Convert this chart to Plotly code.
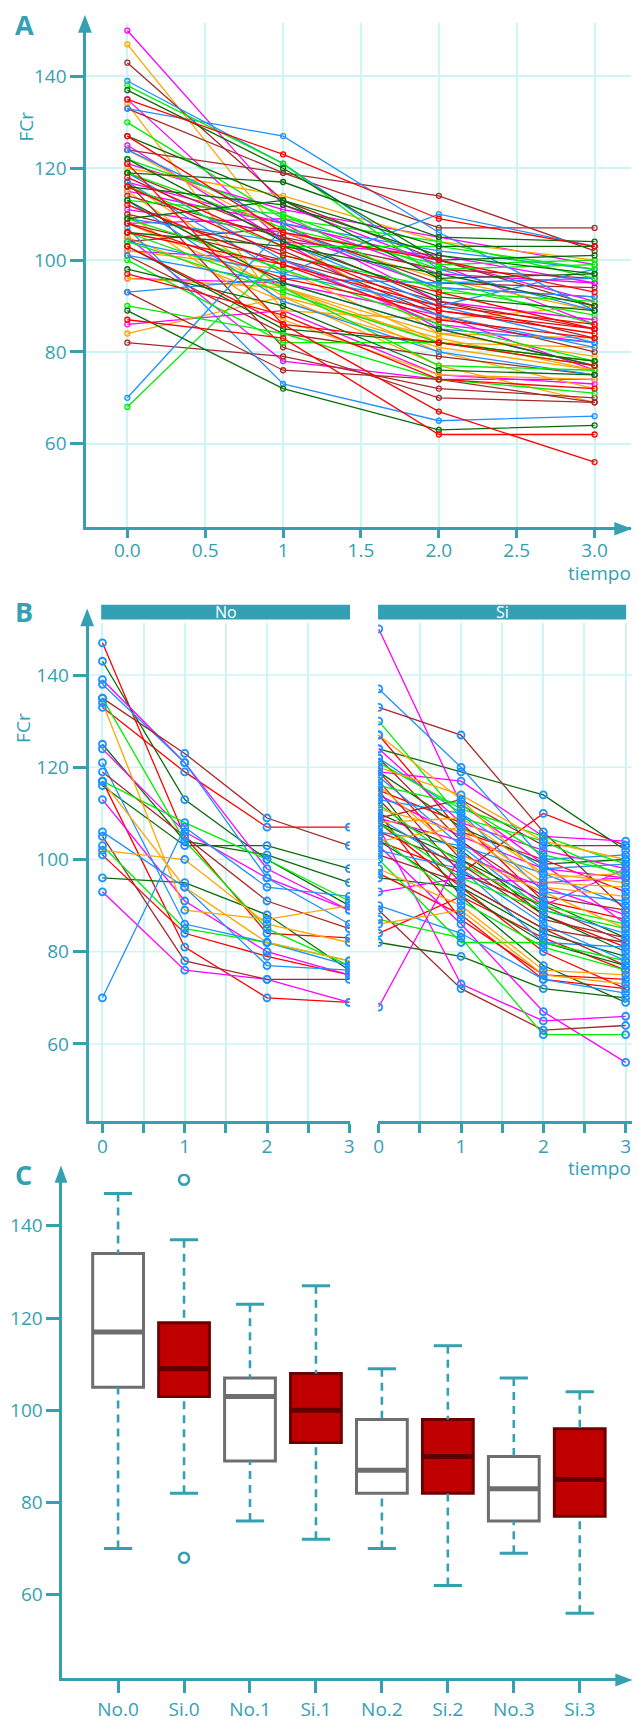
import numpy as np
import plotly.graph_objects as go

# ---------------- data ----------------
tiempo = [0, 1, 2, 3]
tick_vals_a = [0, 0.5, 1, 1.5, 2, 2.5, 3]
tick_text_a = ["0.0", "0.5", "1", "1.5", "2.0", "2.5", "3.0"]
tick_vals_b = [0, 0.5, 1, 1.5, 2, 2.5, 3]
tick_text_b = ["0", "", "1", "", "2", "", "3"]
y_ticks = [60, 80, 100, 120, 140]
groups = ["No", "Si"]

# grupo "No" (one value per subject)
no_t0 = [147, 143, 139, 138, 135, 135, 134, 133, 125, 124, 121, 119, 117, 117, 117, 116, 113, 106, 105, 103, 102, 101, 96, 93, 70]
no_t1 = [105, 113, 121, 121, 123, 104, 89, 119, 104, 106, 86, 105, 108, 94, 81, 103, 91, 94, 78, 85, 100, 84, 95, 76, 107]
no_t2 = [84, 100, 98, 96, 109, 85, 87, 107, 101, 96, 82, 91, 100, 82, 70, 103, 80, 77, 74, 82, 86, 79, 88, 74, 94]
no_t3 = [83, 90, 89, 86, 103, 77, 90, 107, 95, 89, 77, 85, 91, 78, 69, 98, 75, 76, 74, 78, 82, 75, 76, 69, 92]

# grupo "Si"
si_t0 = [150, 137, 133, 130, 127, 127, 124, 124, 122, 122, 121, 120, 119, 119, 119, 118, 117, 116, 116, 115,
         115, 114, 113, 113, 112, 111, 110, 110, 109, 109, 109, 108, 108, 108, 108, 107, 106, 106, 105, 104,
         104, 104, 103, 102, 101, 100, 98, 97, 96, 93, 90, 89, 87, 86, 84, 82, 68]
si_t1 = [112, 120, 127, 109, 113, 106, 119, 108, 110, 104, 111, 114, 100, 107, 117, 103, 97, 112, 101, 108,
         92, 105, 110, 95, 99, 106, 87, 102, 104, 98, 113, 96, 109, 94, 100, 73, 103, 99, 91, 107,
         97, 93, 86, 98, 95, 82, 90, 88, 94, 96, 84, 72, 83, 89, 92, 79, 101]
si_t2 = [99, 100, 106, 104, 96, 100, 114, 102, 98, 92, 105, 104, 88, 99, 105, 89, 90, 101, 93, 91,
         77, 98, 93, 85, 90, 94, 75, 88, 90, 86, 103, 89, 97, 80, 91, 65, 97, 87, 81, 95,
         110, 82, 67, 82, 85, 82, 76, 74, 84, 95, 74, 63, 62, 75, 83, 72, 94]
si_t3 = [86, 101, 89, 96, 97, 93, 102, 98, 99, 89, 99, 100, 81, 100, 104, 84, 82, 97, 85, 87,
         69, 96, 91, 77, 86, 92, 74, 80, 98, 78, 103, 85, 95, 72, 83, 66, 90, 83, 76, 94,
         103, 77, 56, 81, 82, 78, 75, 72, 79, 96, 71, 64, 62, 73, 76, 70, 88]

# ---------------- style ----------------
W, H = 638, 1722
def px(x): return x / W
def py(y): return 1 - y / H

TEAL = "#36a0b3"
GRID = "#cdf5f5"
FONT = "Open Sans"
BLUE, MAG, ORA, LIME, DKG, RED, BRN = "#1E90FF", "#FF00FF", "#FFA500", "#00EE00", "#0B6B0B", "#FF0000", "#A52A2A"
palA = [MAG, ORA, BRN, BLUE, LIME, DKG, RED]
palB = [RED, DKG, MAG, BLUE, BRN, LIME, ORA]

fig = go.Figure()

no_subj = list(zip(no_t0, no_t1, no_t2, no_t3))
si_subj = list(zip(si_t0, si_t1, si_t2, si_t3))

# ---------------- panel A ----------------
allsub = no_subj + si_subj
order = sorted(range(len(allsub)), key=lambda k: -allsub[k][0])
for c in range(7):
    xs, ys = [], []
    for j, k in enumerate(order):
        if j % 7 == c:
            xs += tiempo + [None]
            ys += list(allsub[k]) + [None]
    fig.add_trace(go.Scatter(x=xs, y=ys, mode="lines+markers", xaxis="x", yaxis="y",
                             line=dict(color=palA[c], width=1.3),
                             marker=dict(symbol="circle-open", size=5, color=palA[c], line=dict(width=1.3)),
                             showlegend=False, hoverinfo="skip"))

# ---------------- panel B ----------------
for subj, xa, off in [(no_subj, "x2", 0), (si_subj, "x3", 2)]:
    for c in range(7):
        xs, ys = [], []
        for j, s in enumerate(subj):
            if (j + off) % 7 == c:
                xs += tiempo + [None]
                ys += list(s) + [None]
        fig.add_trace(go.Scatter(x=xs, y=ys, mode="lines", xaxis=xa, yaxis="y2",
                                 line=dict(color=palB[c], width=1.3), showlegend=False, hoverinfo="skip"))
    mx = [t for s in subj for t in tiempo]
    my = [v for s in subj for v in s]
    fig.add_trace(go.Scatter(x=mx, y=my, mode="markers", xaxis=xa, yaxis="y2",
                             marker=dict(symbol="circle-open", size=7, color=BLUE, line=dict(width=1.8)),
                             showlegend=False, hoverinfo="skip"))

# ---------------- panel C ----------------
def fivenum(v):
    x = np.sort(np.asarray(v, dtype=float))
    n = len(x)
    n4 = np.floor((n + 3) / 2) / 2
    d = np.array([1, n4, (n + 1) / 2, n + 1 - n4, n]) - 1
    return 0.5 * (x[np.floor(d).astype(int)] + x[np.ceil(d).astype(int)])

series = {"No": [no_t0, no_t1, no_t2, no_t3], "Si": [si_t0, si_t1, si_t2, si_t3]}
cats, stats = [], []
for t in range(4):
    for g in groups:
        v = np.asarray(series[g][t], dtype=float)
        mn, q1, med, q3, mx_ = fivenum(v)
        iqr = q3 - q1
        inside = v[(v >= q1 - 1.5 * iqr) & (v <= q3 + 1.5 * iqr)]
        outl = v[(v < q1 - 1.5 * iqr) | (v > q3 + 1.5 * iqr)]
        cats.append(f"{g}.{t}")
        stats.append((g, q1, med, q3, inside.min(), inside.max(), outl))

BW = 0.77
CAP = 0.214
for i, (g, q1, med, q3, lo, hi, outl) in enumerate(stats):
    fig.add_trace(go.Scatter(x=[i, i, None, i, i], y=[hi, q3, None, lo, q1], mode="lines",
                             xaxis="x4", yaxis="y4", line=dict(color=TEAL, width=2.6, dash="8px,6px"),
                             showlegend=False, hoverinfo="skip"))
    fig.add_trace(go.Scatter(x=[i - CAP, i + CAP, None, i - CAP, i + CAP], y=[hi, hi, None, lo, lo],
                             mode="lines", xaxis="x4", yaxis="y4", line=dict(color=TEAL, width=3),
                             showlegend=False, hoverinfo="skip"))
    if g == "No":
        fill, edge, medc = "#ffffff", "#6e6e6e", "#6e6e6e"
    else:
        fill, edge, medc = "#c00000", "#6a0000", "#5e0000"
    fig.add_trace(go.Box(x=[i], q1=[q1], median=[med], q3=[q3], lowerfence=[q1], upperfence=[q3],
                         orientation="v", width=BW, whiskerwidth=0, fillcolor=fill,
                         line=dict(color=edge, width=3), boxpoints=False,
                         xaxis="x4", yaxis="y4", showlegend=False, hoverinfo="skip"))
    fig.add_trace(go.Scatter(x=[i - BW / 2, i + BW / 2], y=[med, med], mode="lines",
                             xaxis="x4", yaxis="y4", line=dict(color=medc, width=5),
                             showlegend=False, hoverinfo="skip"))
    if len(outl):
        fig.add_trace(go.Scatter(x=[i] * len(outl), y=list(outl), mode="markers", xaxis="x4", yaxis="y4",
                                 marker=dict(symbol="circle-open", size=10, color=TEAL, line=dict(width=2.6)),
                                 showlegend=False, hoverinfo="skip"))

# ---------------- layout ----------------
tf = dict(family=FONT, size=19, color=TEAL)
base = dict(showline=True, linecolor=TEAL, linewidth=3, ticks="outside", tickcolor=TEAL, tickwidth=3,
            zeroline=False, tickfont=tf)

fig.update_layout(
    width=W, height=H, margin=dict(l=0, r=0, t=0, b=0),
    paper_bgcolor="white", plot_bgcolor="rgba(0,0,0,0)", showlegend=False,
    font=dict(family=FONT, color=TEAL),
    xaxis=dict(base, domain=[px(82.7), px(636)], range=[-0.263, 3.234], anchor="y",
               tickvals=tick_vals_a, ticktext=tick_text_a, ticklen=8, ticklabelstandoff=-4,
               showgrid=True, gridcolor=GRID, gridwidth=1.5),
    yaxis=dict(base, domain=[py(530), py(23.3)], range=[41.8, 151.6], anchor="x",
               tickvals=y_ticks, ticklen=13, showgrid=True, gridcolor=GRID, gridwidth=1.5),
    xaxis2=dict(base, domain=[px(85), px(350.5)], range=[-0.1675, 3.0085], anchor="y2",
                tickvals=tick_vals_b, ticktext=tick_text_b, ticklen=9, ticklabelstandoff=-3,
                showgrid=True, gridcolor=GRID, gridwidth=1.5),
    xaxis3=dict(base, domain=[px(379), px(636.7)], range=[-0.0084, 3.074], anchor="y2",
                tickvals=tick_vals_b, ticktext=tick_text_b, ticklen=9, ticklabelstandoff=-3,
                showgrid=True, gridcolor=GRID, gridwidth=1.5),
    yaxis2=dict(base, domain=[py(1127.3), py(626.7)], range=[43.2, 151.2], anchor="x2",
                tickvals=y_ticks, ticklen=13, showgrid=False),
    xaxis4=dict(base, domain=[px(58.4), px(630)], range=[-0.843, 7.688], anchor="y4",
                tickvals=list(range(len(cats))), ticktext=cats, ticklen=12, showgrid=False),
    yaxis4=dict(base, domain=[py(1687.3), py(1180)], range=[41.83, 151.28], anchor="x4",
                tickvals=y_ticks, ticklen=13, showgrid=False),
)

shapes = []
# horizontal grid across both facets of panel B
for v in y_ticks:
    shapes.append(dict(type="line", xref="paper", yref="y2", x0=px(85), x1=px(636.7), y0=v, y1=v,
                       line=dict(color=GRID, width=1.5), layer="below"))
# facet strips
for x0, x1 in [(97.7, 350.5), (379, 631)]:
    shapes.append(dict(type="rect", xref="paper", yref="paper", x0=px(x0), x1=px(x1), y0=py(622.7), y1=py(608),
                       fillcolor="#33a0b4", line=dict(width=0)))

def tri_up(xc, ytip, ybase, hw):
    return f"M {px(xc - hw)},{py(ybase)} L {px(xc)},{py(ytip)} L {px(xc + hw)},{py(ybase)} Z"
def tri_right(xtip, xbase, yc, hh):
    return f"M {px(xbase)},{py(yc - hh)} L {px(xtip)},{py(yc)} L {px(xbase)},{py(yc + hh)} Z"

for path in [tri_up(81.2, 15, 33, 7), tri_right(637, 619, 531.5, 6.7),
             tri_up(83.5, 611.7, 629.5, 7), tri_up(56.9, 1171.7, 1189, 6.5), tri_right(637.5, 620, 1688.8, 6.5)]:
    shapes.append(dict(type="path", xref="paper", yref="paper", path=path, fillcolor=TEAL,
                       line=dict(width=0), layer="above"))
fig.update_layout(shapes=shapes)

ann = []
def A(text, x, y, size=19, bold=False, color=TEAL, xanchor="center", yanchor="middle", angle=0):
    ann.append(dict(text=f"<b>{text}</b>" if bold else text, x=px(x), y=py(y), xref="paper", yref="paper",
                    showarrow=False, xanchor=xanchor, yanchor=yanchor, textangle=angle,
                    font=dict(family=FONT, size=size, color=color)))

A("A", 19.5, 25, size=27, bold=True)
A("B", 19.5, 615, size=27, bold=True)
A("C", 18.5, 1181, size=27, bold=True)
A("FCr", 21.5, 127, angle=-90)
A("FCr", 18, 732, angle=-90)
A("tiempo", 638, 576, xanchor="right")
A("tiempo", 638, 1174, xanchor="right")
A("No", (97.7 + 350.5) / 2, 615.5, size=16, color="white")
A("Si", (379 + 631) / 2, 615.5, size=16, color="white")
fig.update_layout(annotations=ann)

fig.write_html("out.html", config={"displayModeBar": False},
               post_script="document.body.style.margin='0';document.body.style.overflow='hidden';")
